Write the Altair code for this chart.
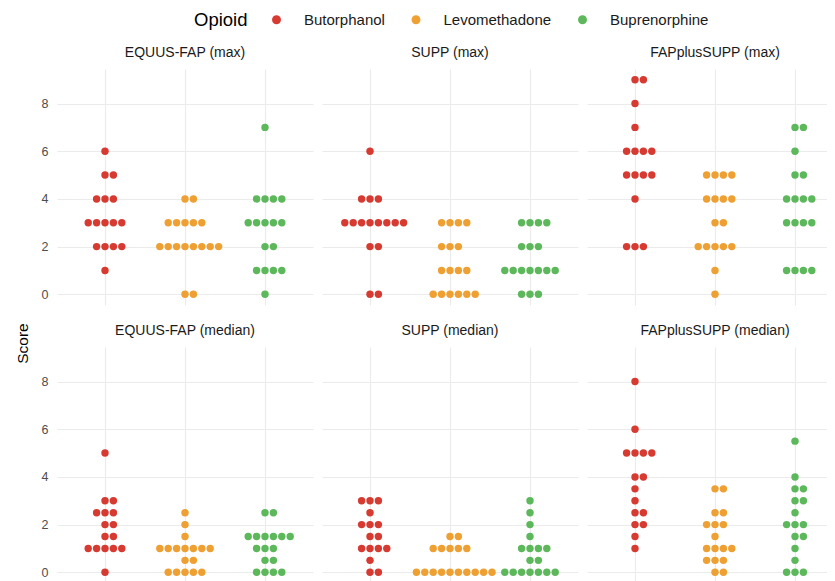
import json
import altair as alt
import pandas as pd

panels = ["EQUUS-FAP (max)", "SUPP (max)", "FAPplusSUPP (max)",
          "EQUUS-FAP (median)", "SUPP (median)", "FAPplusSUPP (median)"]
opioids = ["Butorphanol", "Levomethadone", "Buprenorphine"]
colors = ["#D63A31", "#EFA032", "#5DB85C"]

# Observed scores per panel and opioid
equus_max_but = [6, 5, 5, 4, 4, 4, 3, 3, 3, 3, 3, 2, 2, 2, 2, 1]
equus_max_lev = [4, 4, 3, 3, 3, 3, 3, 2, 2, 2, 2, 2, 2, 2, 2, 0, 0]
equus_max_bup = [7, 4, 4, 4, 4, 3, 3, 3, 3, 3, 2, 2, 1, 1, 1, 1, 0]

supp_max_but = [6, 4, 4, 4, 3, 3, 3, 3, 3, 3, 3, 3, 2, 2, 0, 0]
supp_max_lev = [3, 3, 3, 3, 2, 2, 2, 1, 1, 1, 1, 0, 0, 0, 0, 0, 0]
supp_max_bup = [3, 3, 3, 3, 2, 2, 2, 1, 1, 1, 1, 1, 1, 1, 0, 0, 0]

fps_max_but = [9, 9, 8, 7, 6, 6, 6, 6, 5, 5, 5, 5, 4, 2, 2, 2]
fps_max_lev = [5, 5, 5, 5, 4, 4, 4, 4, 3, 3, 2, 2, 2, 2, 2, 1, 0]
fps_max_bup = [7, 7, 6, 5, 5, 4, 4, 4, 4, 3, 3, 3, 3, 1, 1, 1, 1]

equus_med_but = [5, 3, 3, 2.5, 2.5, 2.5, 2, 2, 1.5, 1.5, 1, 1, 1, 1, 1, 0]
equus_med_lev = [2.5, 2, 1.5, 1, 1, 1, 1, 1, 1, 1, 0.5, 0.5, 0, 0, 0, 0, 0]
equus_med_bup = [2.5, 2.5, 1.5, 1.5, 1.5, 1.5, 1.5, 1.5, 1, 1, 1, 0.5, 0.5, 0, 0, 0, 0]

supp_med_but = [3, 3, 3, 2.5, 2, 2, 2, 1.5, 1.5, 1, 1, 1, 1, 0.5, 0, 0]
supp_med_lev = [1.5, 1.5, 1, 1, 1, 1, 1, 0, 0, 0, 0, 0, 0, 0, 0, 0, 0]
supp_med_bup = [3, 2.5, 2, 1.5, 1, 1, 1, 1, 0.5, 0.5, 0, 0, 0, 0, 0, 0, 0]

fps_med_but = [8, 6, 5, 5, 5, 5, 4, 4, 3.5, 3, 2.5, 2.5, 2, 2, 1.5, 1]
fps_med_lev = [3.5, 3.5, 2.5, 2.5, 2, 2, 2, 1.5, 1, 1, 1, 1, 0.5, 0.5, 0.5, 0, 0]
fps_med_bup = [5.5, 4, 3.5, 3.5, 3, 3, 2.5, 2, 2, 2, 1.5, 1.5, 1, 0.5, 0, 0, 0]

panel_scores = [
    [equus_max_but, equus_max_lev, equus_max_bup],
    [supp_max_but, supp_max_lev, supp_max_bup],
    [fps_max_but, fps_max_lev, fps_max_bup],
    [equus_med_but, equus_med_lev, equus_med_bup],
    [supp_med_but, supp_med_lev, supp_med_bup],
    [fps_med_but, fps_med_lev, fps_med_bup],
]

rows = []
for p, groups in zip(panels, panel_scores):
    for o, vals in zip(opioids, groups):
        for v in vals:
            rows.append({"panel": p, "opioid": o, "score": v})
df = pd.DataFrame(rows)

FONT = "Liberation Sans"
step = 0.105  # dot stacking width in category units

legend = alt.Legend(
    title="Opioid", orient="none", legendX=137, legendY=-57,
    direction="horizontal", titleOrient="left",
    titleFontSize=18.5, titleFontWeight="normal", titleColor="#000000",
    titleFont=FONT, titlePadding=21, titleBaseline="middle",
    labelFontSize=15, labelColor="#1A1A1A", labelFont=FONT,
    labelOffset=20, columnPadding=23.5,
    symbolType="circle", symbolSize=80, symbolStrokeWidth=0, symbolOpacity=1)


def panel(i, show_labels, width, xmax, title_dx=0):
    base = alt.Chart(df).transform_filter(
        alt.datum.panel == panels[i]
    ).transform_window(
        rank="row_number()", groupby=["opioid", "score"]
    ).transform_joinaggregate(
        n="count()", groupby=["opioid", "score"]
    ).transform_calculate(
        cat="indexof(" + json.dumps(opioids) + ", datum.opioid)"
    ).transform_calculate(
        xpos=f"datum.cat + (datum.rank - 1 - floor((datum.n - 1) / 2)) * {step}"
    )
    return base.mark_circle(size=55, opacity=1, clip=True).encode(
        x=alt.X("xpos:Q",
                scale=alt.Scale(domain=[-0.6, xmax], nice=False, zero=False),
                axis=alt.Axis(values=[0, 1, 2], labels=False, ticks=False, tickSize=0,
                              domain=False, grid=True, title=None)),
        y=alt.Y("score:Q",
                scale=alt.Scale(domain=[-0.45, 9.45], nice=False, zero=False),
                axis=alt.Axis(values=[0, 2, 4, 6, 8], title=None, ticks=False, tickSize=0,
                              domain=False, labelPadding=9, format="d",
                              labels=show_labels)),
        color=alt.Color("opioid:N", sort=opioids,
                        scale=alt.Scale(domain=opioids, range=colors),
                        legend=legend),
    ).properties(
        width=width, height=236,
        title=alt.TitleParams(panels[i], fontSize=14, fontWeight="normal",
                              color="#1A1A1A", font=FONT, offset=9,
                              anchor="middle", dx=title_dx),
    )


row1 = alt.hconcat(panel(0, True, 256, 2.6), panel(1, False, 256, 2.6),
                   panel(2, False, 240, 2.4, 8), spacing=9)
row2 = alt.hconcat(panel(3, True, 256, 2.6), panel(4, False, 256, 2.6),
                   panel(5, False, 240, 2.4, 8), spacing=9)

chart = alt.vconcat(row1, row2, spacing=19).properties(
    title=alt.TitleParams("Score", orient="left", anchor="middle", fontSize=15.5,
                          fontWeight="normal", color="#000000", font=FONT,
                          offset=10, dx=-46),
    padding={"left": 7, "top": 4, "right": 0, "bottom": 0},
    background="white",
).configure_view(
    stroke=None
).configure_axis(
    gridColor="#EBEBEB", gridWidth=1.1, labelFont=FONT, labelFontSize=12.5,
    labelColor="#4D4D4D"
)

chart.save("out.html", embed_options={"renderer": "svg", "actions": False})
